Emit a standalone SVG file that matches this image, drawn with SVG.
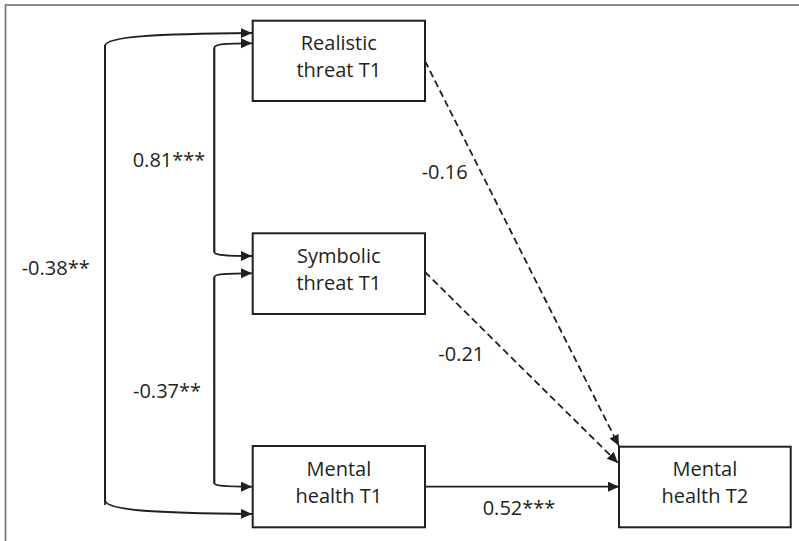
<svg xmlns="http://www.w3.org/2000/svg" width="799" height="541" viewBox="0 0 799 541">
<style>
.box{fill:#fff;stroke:#231f20;stroke-width:2}
.t{font-family:"Open Sans","Liberation Sans",sans-serif;font-size:20px;fill:#231f20}
.c{text-anchor:middle}
.ln{fill:none;stroke:#231f20;stroke-width:1.8}
.d{stroke-dasharray:7 4}
</style>
<defs>
<marker id="ah" markerUnits="userSpaceOnUse" markerWidth="12" markerHeight="11" refX="11" refY="5" orient="auto">
<path d="M0,0 L11,5 L0,10 z" fill="#231f20"/>
</marker>
</defs>
<rect x="5.5" y="5" width="820" height="600" fill="#fff" stroke="#6d6e71" stroke-width="1.6"/>
<g id="connectors">
<path class="ln" marker-end="url(#ah)" d="M105,505 V46 C105,36 160,34 252,33"/>
<path class="ln" marker-end="url(#ah)" d="M105,45 V500 C105,511 160,513 252,514"/>
<path class="ln" marker-end="url(#ah)" d="M214.3,252 V48 C214.3,44 225,43.3 252,43.3"/>
<path class="ln" marker-end="url(#ah)" d="M214.3,48 V252 C214.3,255 225,256 252,256"/>
<path class="ln" marker-end="url(#ah)" d="M214.3,484 V277 C214.3,274 225,273.3 252,273.3"/>
<path class="ln" marker-end="url(#ah)" d="M214.3,277 V483 C214.3,486 225,486.7 252,486.7"/>
<path class="ln d" marker-end="url(#ah)" d="M425,61 L619,446"/>
<path class="ln d" marker-end="url(#ah)" d="M425,272 L618,463"/>
<path class="ln" marker-end="url(#ah)" d="M425,486.7 L619,486.7"/>
<text class="t" x="132.7" y="166.7">0.81***</text>
<text class="t" x="21.7" y="275">-0.38**</text>
<text class="t" x="133" y="398">-0.37**</text>
<text class="t" x="421.7" y="179.3">-0.16</text>
<text class="t" x="438.3" y="360.7">-0.21</text>
<text class="t" x="482.7" y="515">0.52***</text>
</g>
<g id="realistic">
<rect class="box" x="252.7" y="20.7" width="172.3" height="80.3"/>
<text class="t c" x="338.8" y="50">Realistic</text>
<text class="t c" x="338.8" y="77">threat T1</text>
</g>
<g id="symbolic">
<rect class="box" x="252.7" y="233.3" width="172.3" height="80.7"/>
<text class="t c" x="338.8" y="262.7">Symbolic</text>
<text class="t c" x="338.8" y="289.7">threat T1</text>
</g>
<g id="mental1">
<rect class="box" x="252.7" y="446" width="172.3" height="81.3"/>
<text class="t c" x="338.8" y="475.7">Mental</text>
<text class="t c" x="338.8" y="502.7">health T1</text>
</g>
<g id="mental2">
<rect class="box" x="619" y="446.7" width="171.7" height="80.6"/>
<text class="t c" x="704.8" y="476">Mental</text>
<text class="t c" x="704.8" y="503.3">health T2</text>
</g>
</svg>
